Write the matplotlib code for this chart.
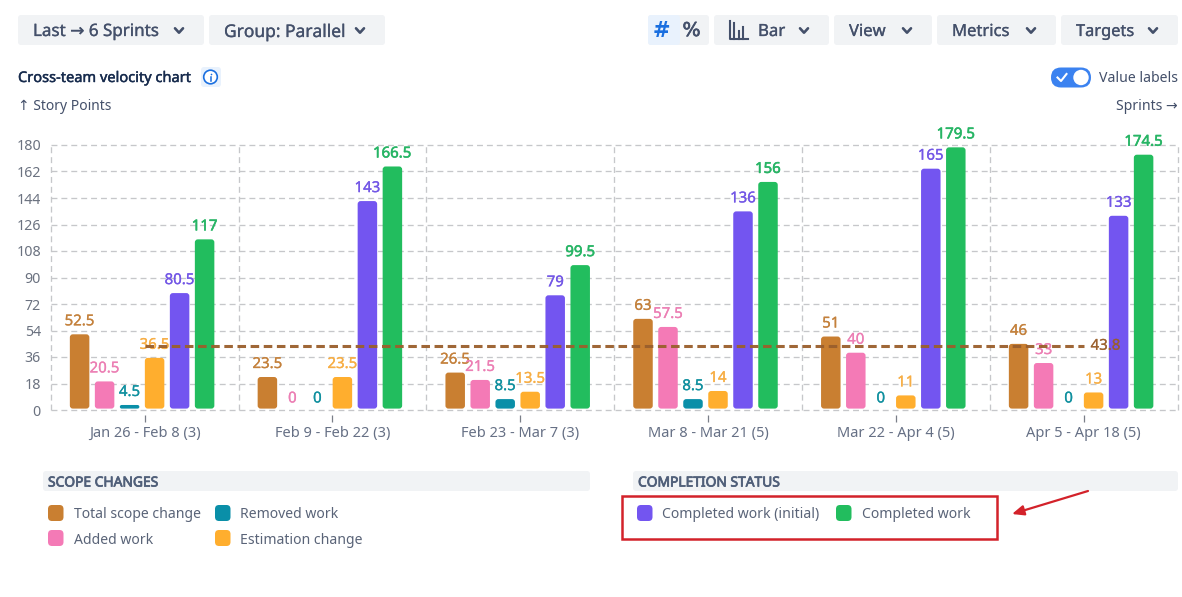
import matplotlib
matplotlib.use("Agg")
import matplotlib.pyplot as plt
import matplotlib.patheffects as pe
from matplotlib.patches import FancyBboxPatch, Rectangle, Circle

plt.rcParams['font.family'] = ['Noto Sans', 'DejaVu Sans']

# ---- data ----
sprints = ["Jan 26 - Feb 8 (3)", "Feb 9 - Feb 22 (3)", "Feb 23 - Mar 7 (3)",
           "Mar 8 - Mar 21 (5)", "Mar 22 - Apr 4 (5)", "Apr 5 - Apr 18 (5)"]
total_scope = [52.5, 23.5, 26.5, 63, 51, 46]
added_work = [20.5, 0, 21.5, 57.5, 40, 33]
removed_work = [4.5, 0, 8.5, 8.5, 0, 0]
estimation_change = [36.5, 23.5, 13.5, 14, 11, 13]
completed_initial = [80.5, 143, 79, 136, 165, 133]
completed_work = [117, 166.5, 99.5, 156, 179.5, 174.5]
average_completed = 43.8
y_ticks = [0, 18, 36, 54, 72, 90, 108, 126, 144, 162, 180]

series = [
    ("Total scope change", total_scope, "#c97f31", "#c4813c"),
    ("Added work", added_work, "#f47ab6", "#ec7fb4"),
    ("Removed work", removed_work, "#0a8fa8", "#10909f"),
    ("Estimation change", estimation_change, "#ffae2e", "#f7ae45"),
    ("Completed work (initial)", completed_initial, "#7355f0", "#7357e6"),
    ("Completed work", completed_work, "#22bd5e", "#27b565"),
]

W, H = 1182, 597
fig = plt.figure(figsize=(W / 100, H / 100), dpi=100, facecolor="white")

# ---- page chrome, in pixel coordinates ----
ui = fig.add_axes([0, 0, 1, 1], zorder=0)
ui.set_xlim(0, W)
ui.set_ylim(H, 0)
ui.axis("off")

BTN = "#f1f3f5"
INK = "#44506a"


def px(v):
    return v * 0.72


def heavy(color, amount=0.35):
    """Stroke that thickens a regular face to a medium weight."""
    return [pe.withStroke(linewidth=amount, foreground=color)]


def rbox(a, x0, y0, x1, y1, color, r=3, **kw):
    a.add_patch(FancyBboxPatch((x0, y0), x1 - x0, y1 - y0,
                               boxstyle=f"round,pad=0,rounding_size={r}",
                               fc=color, ec="none", **kw))


def chevron(a, cx, cy):
    a.plot([cx - 4, cx, cx + 4], [cy - 2.2, cy + 2.2, cy - 2.2],
           color=INK, lw=1.9, solid_capstyle="round", solid_joinstyle="round")


buttons = [
    (18, 204, "Last → 6 Sprints", 33, 179, 17.0),
    (209, 385, "Group: Parallel", 224, 360, 17.4),
    (714, 829, "Bar", 758, 804, 16.8),
    (834, 932, "View", 849, 907, 16.6),
    (937, 1056, "Metrics", 952, 1031, 16.6),
    (1061, 1178, "Targets", 1076, 1153, 16.4),
]
for x0, x1, label, tx, chev, size in buttons:
    rbox(ui, x0, 15, x1, 45, BTN)
    ui.text(tx, 32, label, fontsize=px(size), color=INK, va="center", ha="left",
            path_effects=heavy(INK, 0.2))
    chevron(ui, chev, 30.5)

rbox(ui, 648, 15, 709, 45, BTN)
rbox(ui, 648, 15, 680, 45, "#e9f2fd")
ui.text(661.5, 31, "#", fontsize=px(21), color="#1a6fe0", va="center", ha="center",
        family="DejaVu Sans", fontweight="bold")
ui.text(691.5, 30.5, "%", fontsize=px(19), color=INK, va="center", ha="center",
        family="DejaVu Sans", path_effects=heavy(INK, 0.5))

# bar-chart icon of the "Bar" button
ui.plot([729.5, 729.5, 748], [21, 38.5, 38.5], color=INK, lw=1.5)
for xb, yb in [(734, 23), (738.5, 31), (743, 27)]:
    ui.plot([xb, xb], [yb, 38.5], color=INK, lw=1.5)

ui.text(18, 78.5, "Cross-team velocity chart", fontsize=px(14.6), color="#172b4d",
        va="center", ha="left", path_effects=heavy("#172b4d", 0.3))
rbox(ui, 201, 67, 221, 87, "#e9f2fd", r=3)
ui.add_patch(Circle((210.5, 77), 6.8, fc="white", ec="#1a6fe0", lw=1.2))
ui.plot([210.5, 210.5], [76.5, 80.5], color="#1a6fe0", lw=1.1)
ui.plot([210.5], [73.6], marker="o", ms=1.2, color="#1a6fe0", mew=0)

ui.text(18, 106.5, "↑ Story Points", fontsize=px(13.9), color=INK, va="center", ha="left")
ui.text(1178, 106.5, "Sprints →", fontsize=px(14), color=INK, va="center", ha="right")

rbox(ui, 1051, 67.5, 1091, 87.5, "#3b82f0", r=10)
ui.add_patch(Circle((1081, 77.5), 7.7, fc="white", ec="none"))
ui.plot([1057.5, 1061, 1066.5], [77.5, 81, 74], color="white", lw=1.5)
ui.text(1178, 78.5, "Value labels", fontsize=px(14.1), color=INK, va="center", ha="right")

# legend sections
rbox(ui, 43, 471, 590, 491, BTN)
rbox(ui, 633, 471, 1178, 491, BTN)
for hx, head in [(48, "SCOPE CHANGES"), (638, "COMPLETION STATUS")]:
    ui.text(hx, 483, head, fontsize=px(13.8), color="#505f79", va="center", ha="left",
            path_effects=heavy("#505f79", 0.55))

legend_slots = [(48, 513), (48, 538), (215, 513), (215, 538), (637, 513), (836, 513)]
for (name, _, color, _), (lx, ly) in zip(series, legend_slots):
    rbox(ui, lx, ly - 8, lx + 15.5, ly + 8, color, r=4)
    ui.text(lx + 25.5, ly + 2, name, fontsize=px(14), color="#5a6478", va="center", ha="left")

# red annotation
ui.add_patch(Rectangle((622, 496), 375, 43, fc="none", ec="#d3222a", lw=1.8))
ui.annotate("", xy=(1012, 514), xytext=(1088, 491),
            arrowprops=dict(arrowstyle="-|>,head_length=0.7,head_width=0.3",
                            color="#d3222a", lw=1.6, shrinkA=0, shrinkB=0))

# ---- chart ----
L, R, T, B = 50.7, 1177.5, 145, 410
ax = fig.add_axes([L / W, 1 - B / H, (R - L) / W, (B - T) / H], zorder=1)
ax.patch.set_alpha(0)
n = len(sprints)
ax.set_xlim(0, n)
ax.set_ylim(0, 180)

group_px = (R - L) / n
unit_px = (B - T) / 180
centers = [i + 0.5 for i in range(n)]

GRID = "#c6c7ca"
ax.set_yticks(y_ticks)
ax.set_xticks(centers)
ax.set_xticklabels(sprints)
for y in y_ticks:
    ax.axhline(y, color=GRID, lw=0.95, ls=(0, (4.5, 3)), zorder=1, clip_on=False)
for i in range(n + 1):
    ax.axvline(i, color=GRID, lw=0.95, ls=(0, (4.5, 3)), zorder=1, clip_on=False)

for s in ("top", "right", "left", "bottom"):
    ax.spines[s].set_visible(False)
ax.spines["bottom"].set_position(("outward", 3.6))
ax.tick_params(axis="y", length=0, pad=7, labelsize=px(14.2), labelcolor="#6b7280")
ax.tick_params(axis="x", length=5, width=0.9, color="#7a7f88", pad=2.6,
               labelsize=px(14.6), labelcolor="#667085")

step = 25 / group_px
bar_w = 19.5 / group_px
first = -65 / group_px
inset = 2 / unit_px       # bars stop 2 px short of their value at each end
top_gap = 12.5 / unit_px  # label centre above the bar's top
radius = 3 / group_px
aspect = group_px / unit_px

for k, (name, values, color, tcolor) in enumerate(series):
    for c, v in zip(centers, values):
        xc = c + first + k * step
        if v > 0:
            bottom = inset * 0.7
            top = max(v - inset * 0.8, bottom + inset)
            r = min(radius, (top - bottom) / 2 / aspect)
            ax.add_patch(FancyBboxPatch((xc - bar_w / 2, bottom), bar_w, top - bottom,
                                        boxstyle=f"round,pad=0,rounding_size={r}",
                                        mutation_aspect=aspect, fc=color, ec="none", zorder=2))
            label_y = top + top_gap
        else:
            label_y = 7.5
        amount = 0.4 if k == 5 else 0.2
        ax.text(xc, label_y, f"{v:g}", color=tcolor, fontsize=px(15), ha="center",
                va="center", zorder=3, clip_on=False, path_effects=heavy(tcolor, amount))

ax.plot([centers[0], centers[-1]], [average_completed] * 2, color="#9a5f2c", lw=2.2,
        ls=(0, (2.8, 1.5)), zorder=4, alpha=0.95)
ax.text(centers[-1] + 7 / group_px, average_completed - 0.5, f"{average_completed:g}",
        color="#9a5f2c", fontsize=px(15), ha="left", va="center", zorder=4, alpha=0.9,
        path_effects=heavy("#9a5f2c", 0.2))

fig.savefig("out.png", dpi=100, facecolor="white")
